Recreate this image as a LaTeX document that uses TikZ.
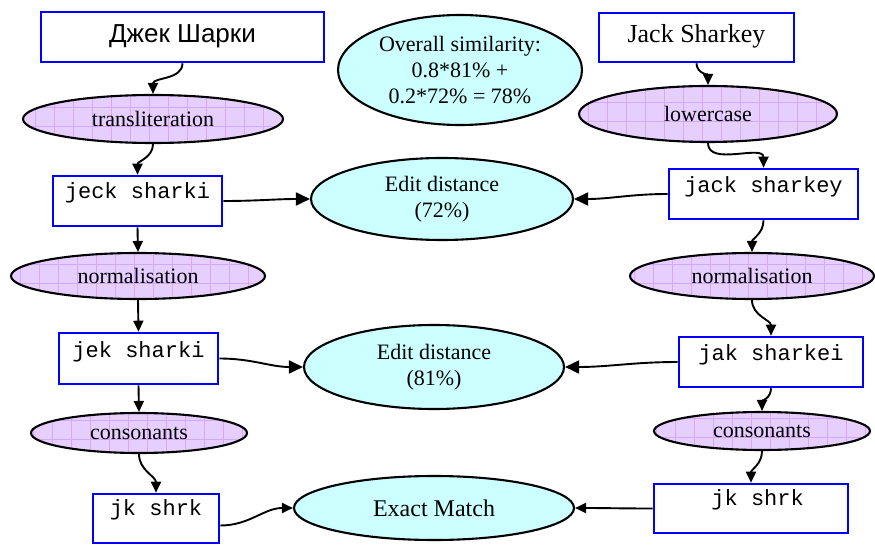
\documentclass[tikz,border=0pt]{standalone}
\usepackage{fontspec}
\setmainfont{Liberation Serif}
\setmonofont{Liberation Mono}
\newfontfamily\arialfont{Liberation Sans}
\usetikzlibrary{shapes.geometric,arrows.meta}
\definecolor{boxblue}{RGB}{0,0,255}
\definecolor{lavfill}{RGB}{230,206,255}
\definecolor{lavgrid}{RGB}{212,168,255}
\definecolor{cyanfill}{RGB}{204,255,255}
\tikzset{
  tbox/.style={draw=boxblue, line width=2.6pt, fill=white, rectangle, inner sep=0pt,
     font=\ttfamily\fontsize{22}{26}\selectfont},
  opell/.style={ellipse, draw=black, line width=2.1pt, fill=lavfill, inner sep=0pt,
     font=\fontsize{22}{26}\selectfont,
     path picture={\draw[lavgrid, line width=0.7pt, step=19pt]
        (path picture bounding box.south west) grid (path picture bounding box.north east);}},
  resell/.style={ellipse, draw=black, line width=2.1pt, fill=cyanfill, inner sep=0pt,
     align=center, font=\fontsize{22}{26}\selectfont},
  conn/.style={line width=1.9pt, -{Triangle[length=11pt,width=10pt]}},
  hconn/.style={line width=1.9pt, -{Triangle[length=14pt,width=13pt]}},
}
\begin{document}
\begin{tikzpicture}[x=1pt,y=-1pt]
\useasboundingbox (0,0) rectangle (875,545);
% boxes
\node[tbox, minimum width=283pt, text height=31pt, text depth=19pt,
      font=\arialfont\fontsize{26}{30}\selectfont] (rus) at (182.5,37) {Джек Шарки};
\node[tbox, minimum width=195pt, text height=30pt, text depth=19pt,
      font=\fontsize{26}{30}\selectfont] (eng) at (696.5,37.5) {Jack Sharkey};
\node[tbox, minimum width=169pt, text height=23pt, text depth=27pt] (jeck) at (137.5,201) {jeck sharki};
\node[tbox, minimum width=189pt, text height=24pt, text depth=26pt] (jacksh) at (763.5,194) {jack sharkey};
\node[tbox, minimum width=159pt, text height=24pt, text depth=27pt] (jek) at (138.5,358.5) {jek sharki};
\node[tbox, minimum width=184pt, text height=23pt, text depth=27pt] (jak) at (771,362) {jak sharkei};
\node[tbox, minimum width=126pt, text height=21pt, text depth=28pt] (jkl) at (156,518.5) {jk shrk};
\node[tbox, minimum width=194pt, text height=21pt, text depth=28pt] (jkr) at (751,508.5) {\hphantom{j}jk shrk};
% operation ellipses
\node[opell, minimum width=260pt, minimum height=48pt] (translit) at (153,119) {transliteration};
\node[opell, minimum width=254pt, minimum height=46pt] (norml) at (138,276) {normalisation};
\node[opell, minimum width=216pt, minimum height=40pt] (consl) at (139,433) {consonants};
\node[opell, minimum width=258pt, minimum height=56pt] (lower) at (708,114) {lowercase};
\node[opell, minimum width=244pt, minimum height=46pt] (normr) at (752,276) {normalisation};
\node[opell, minimum width=216pt, minimum height=38pt] (consr) at (762,431) {consonants};
% result ellipses
\node[resell, minimum width=244pt, minimum height=110pt] (overall) at (460,70)
   {Overall similarity:\\0.8*81\% +\\0.2*72\% = 78\%};
\node[resell, minimum width=262pt, minimum height=82pt] (ed72) at (442,199) {Edit distance\\(72\%)};
\node[resell, minimum width=260pt, minimum height=84pt] (ed81) at (434,367) {Edit distance\\(81\%)};
\node[resell, minimum width=280pt, minimum height=64pt, font=\fontsize{24}{28}\selectfont] (exact) at (434,508) {Exact Match};
% left chain
\draw[conn] (rus.south) to[out=-90,in=90] (translit.north);
\draw[conn] (translit.south) to[out=-90,in=90] (jeck.north);
\draw[conn] (jeck.south) -- (norml.north);
\draw[conn] (norml.south) -- (jek.north);
\draw[conn] (jek.south) -- (consl.north);
\draw[conn] (consl.south) to[out=-90,in=90] (jkl.north);
% right chain
\draw[conn] (eng.south) to[out=-90,in=90] (lower.north);
\draw[conn] (lower.south) to[out=-90,in=90] (jacksh.north);
\draw[conn] (jacksh.south) to[out=-90,in=90] (normr.north);
\draw[conn] (normr.south) to[out=-90,in=90] (jak.north);
\draw[conn] (jak.south) to[out=-90,in=90] (consr.north);
\draw[conn] (consr.south) to[out=-90,in=90] (jkr.north);
% comparisons
\draw[hconn] (jeck.east) to[out=0,in=180] (ed72.west);
\draw[hconn] (jacksh.west) to[out=180,in=0] (ed72.east);
\draw[hconn] (jek.east) to[out=0,in=180] (ed81.west);
\draw[hconn] (jak.west) to[out=180,in=0] (ed81.east);
\draw[conn] ([yshift=-7pt]jkl.east) to[out=0,in=180] (exact.west);
\draw[conn] (jkr.west) to[out=180,in=0] (exact.east);
\end{tikzpicture}
\end{document}
